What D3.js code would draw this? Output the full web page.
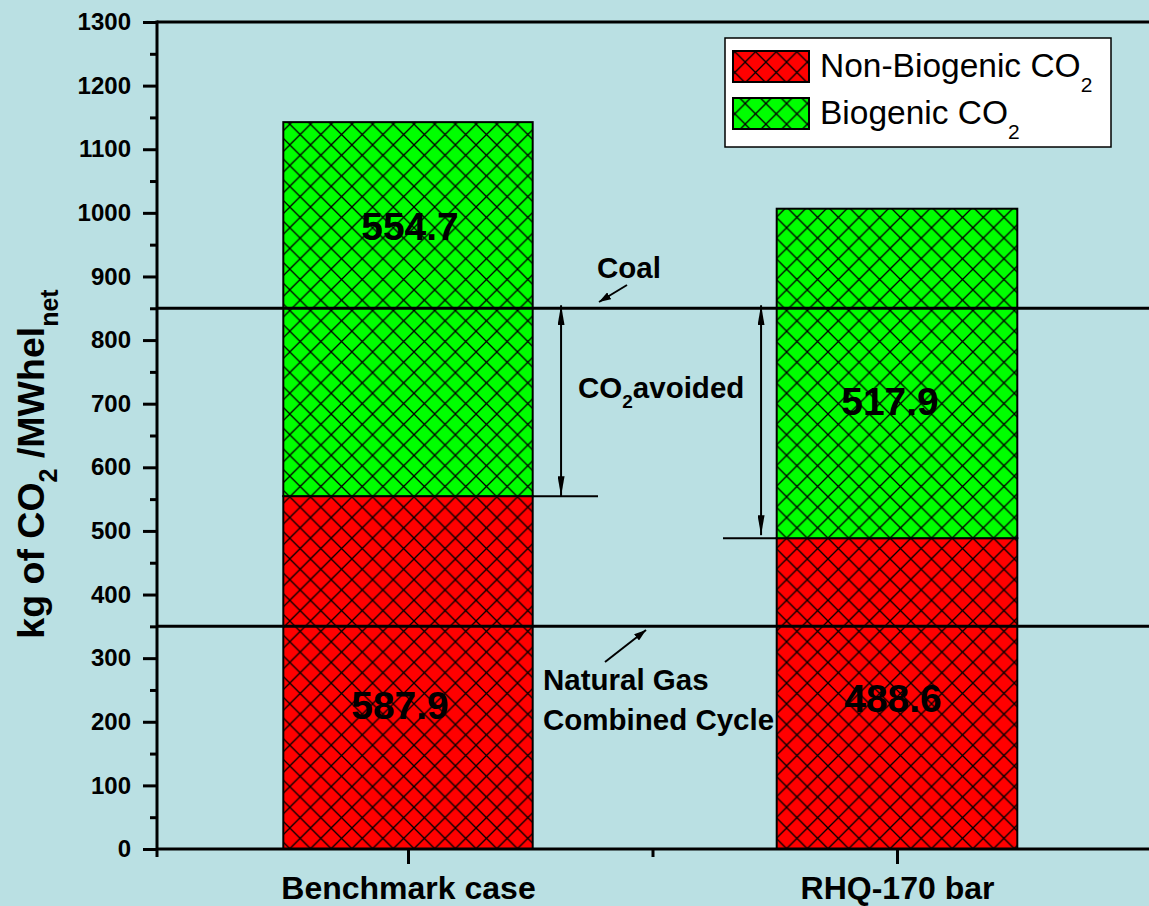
<!DOCTYPE html>
<html>
<head>
<meta charset="utf-8">
<script src="https://cdn.jsdelivr.net/npm/d3@7"></script>
<style>
  body { margin: 0; background: #bae0e3; }
  svg { display: block; font-family: "Liberation Sans", Arial, sans-serif; }
</style>
</head>
<body>
<svg id="chart" width="1149" height="906"></svg>
<script>
// Data
const categories = ['Benchmark case', 'RHQ-170 bar'];
const nonBiogenic = [554.7, 488.6];   // red part (bottom)
const biogenic = [587.9, 517.9];      // green part (top)
// the printed numbers, as they sit in the picture
const topLabels = ['554.7', '517.9'];
const bottomLabels = ['587.9', '488.6'];
const yTicks = [0, 100, 200, 300, 400, 500, 600, 700, 800, 900, 1000, 1100, 1200, 1300];
const coalLevel = 850;
const ngccLevel = 350;

const W = 1149, H = 906;
// plot edges (note: "top" is taken by window.top)
const plotL = 157, plotR = 1149, plotT = 22, plotB = 849;

const svg = d3.select('#chart');

const x = d3.scaleLinear().domain([1, 2]).range([408, 897]);
const y = d3.scaleLinear().domain([0, 1300]).range([plotB, plotT]);
const halfW = [0.255, 0.246];

// hatch patterns
const defs = svg.append('defs');
const hs = 20.7;
function hatch(id, color) {
  const p = defs.append('pattern')
    .attr('id', id)
    .attr('patternUnits', 'userSpaceOnUse')
    .attr('width', hs).attr('height', hs);
  p.append('rect').attr('width', hs).attr('height', hs).attr('fill', color);
  p.append('path')
    .attr('d', `M-2,2 l4,-4 M0,${hs} l${hs},${-hs} M${hs - 2},${hs + 2} l4,-4 ` +
               `M-2,${hs - 2} l4,4 M0,0 l${hs},${hs} M${hs - 2},-2 l4,4`)
    .attr('stroke', '#000').attr('stroke-width', 1.3);
}
hatch('hatchRed', '#ff0000');
hatch('hatchGreen', '#00ff00');

function marker(id, len, wid) {
  defs.append('marker')
    .attr('id', id)
    .attr('viewBox', '0 0 10 10')
    .attr('refX', 10).attr('refY', 5)
    .attr('markerWidth', len).attr('markerHeight', wid)
    .attr('markerUnits', 'userSpaceOnUse')
    .attr('orient', 'auto-start-reverse')
    .attr('preserveAspectRatio', 'none')
    .append('path').attr('d', 'M0,0 L10,5 L0,10 Z').attr('fill', '#000');
}
marker('arr', 12, 8);
marker('arrLong', 20, 7);

svg.append('rect').attr('width', W).attr('height', H).attr('fill', '#bae0e3');

// bars
const stack = categories.map((c, i) => ({
  i: i,
  red: [0, nonBiogenic[i]],
  green: [nonBiogenic[i], nonBiogenic[i] + biogenic[i]]
}));

const bars = svg.append('g');
bars.selectAll('rect.red').data(stack).enter().append('rect')
  .attr('class', 'red')
  .attr('x', d => x(d.i + 1 - halfW[d.i]))
  .attr('width', d => x(d.i + 1 + halfW[d.i]) - x(d.i + 1 - halfW[d.i]))
  .attr('y', d => y(d.red[1]))
  .attr('height', d => y(d.red[0]) - y(d.red[1]))
  .attr('fill', 'url(#hatchRed)')
  .attr('stroke', '#000').attr('stroke-width', 2);

bars.selectAll('rect.green').data(stack).enter().append('rect')
  .attr('class', 'green')
  .attr('x', d => x(d.i + 1 - halfW[d.i]))
  .attr('width', d => x(d.i + 1 + halfW[d.i]) - x(d.i + 1 - halfW[d.i]))
  .attr('y', d => y(d.green[1]))
  .attr('height', d => y(d.green[0]) - y(d.green[1]))
  .attr('fill', 'url(#hatchGreen)')
  .attr('stroke', '#000').attr('stroke-width', 2);

// reference lines (coal, NGCC)
svg.selectAll('line.ref').data([coalLevel, ngccLevel]).enter().append('line')
  .attr('class', 'ref')
  .attr('x1', plotL).attr('x2', plotR)
  .attr('y1', d => y(d)).attr('y2', d => y(d))
  .attr('stroke', '#000').attr('stroke-width', 3);

// values inside bars
const topY = [957, 682], botY = [205, 216];
const nudge = [[2, -8], [-7, -4]];
const valG = svg.append('g')
  .attr('font-size', 39).attr('font-weight', 'bold').attr('text-anchor', 'middle');
categories.forEach((c, i) => {
  valG.append('text').attr('x', x(i + 1) + nudge[i][0]).attr('y', y(topY[i])).text(topLabels[i]);
  valG.append('text').attr('x', x(i + 1) + nudge[i][1]).attr('y', y(botY[i])).text(bottomLabels[i]);
});

// axes
const yAxis = d3.axisLeft(y).tickValues(yTicks).tickSize(14).tickPadding(12).tickFormat(d3.format('d'));
const gy = svg.append('g').attr('transform', `translate(${plotL},0)`).call(yAxis);
gy.select('.domain').remove();
gy.selectAll('line').attr('stroke-width', 3);
gy.selectAll('text').attr('font-size', 24).attr('font-weight', 'bold').attr('font-family', null).attr('fill', '#000');

const yMinor = d3.axisLeft(y).tickValues(d3.range(50, 1300, 100)).tickSize(7).tickFormat('');
const gym = svg.append('g').attr('transform', `translate(${plotL},0)`).call(yMinor);
gym.select('.domain').remove();
gym.selectAll('line').attr('stroke-width', 3);

const xAxis = d3.axisBottom(x).tickValues([1, 2]).tickSize(15).tickPadding(12)
  .tickFormat((d, i) => categories[i]);
const gx = svg.append('g').attr('transform', `translate(0,${plotB})`).call(xAxis);
gx.select('.domain').remove();
gx.selectAll('line').attr('stroke-width', 3);
gx.selectAll('text').attr('font-size', 32).attr('font-weight', 'bold').attr('font-family', null).attr('fill', '#000');

const xMinor = d3.axisBottom(x).tickValues([1.5]).tickSize(8).tickFormat('');
const gxm = svg.append('g').attr('transform', `translate(0,${plotB})`).call(xMinor);
gxm.select('.domain').remove();
gxm.selectAll('line').attr('stroke-width', 3);

// frame lines
svg.append('line').attr('x1', plotL).attr('x2', plotL).attr('y1', plotT - 1.5).attr('y2', plotB + 8)
  .attr('stroke', '#000').attr('stroke-width', 3);
svg.append('line').attr('x1', plotL).attr('x2', plotR).attr('y1', plotB).attr('y2', plotB)
  .attr('stroke', '#000').attr('stroke-width', 3);
svg.append('line').attr('x1', plotL).attr('x2', plotR).attr('y1', plotT).attr('y2', plotT)
  .attr('stroke', '#000').attr('stroke-width', 3);

// y label
const yl = svg.append('text')
  .attr('transform', 'translate(44,464) rotate(-90)')
  .attr('text-anchor', 'middle')
  .attr('font-size', 37.5).attr('font-weight', 'bold');
yl.append('tspan').text('kg of CO');
yl.append('tspan').attr('font-size', 25).attr('dy', 13).text('2');
yl.append('tspan').attr('dy', -13).text(' /MWhel');
yl.append('tspan').attr('font-size', 25).attr('dy', 14).text('net');

// annotations
const ann = svg.append('g').attr('font-size', 29.5).attr('font-weight', 'bold');
ann.append('text').attr('x', 597).attr('y', 278).text('Coal');
const co2 = ann.append('text').attr('x', 578).attr('y', 398);
co2.append('tspan').text('CO');
co2.append('tspan').attr('font-size', 19).attr('dy', 10).text('2');
co2.append('tspan').attr('dy', -10).text('avoided');
ann.append('text').attr('x', 543).attr('y', 690).text('Natural Gas');
ann.append('text').attr('x', 543).attr('y', 730).text('Combined Cycle');

function arrow(x1, y1, x2, y2, both, m) {
  const l = svg.append('line')
    .attr('x1', x1).attr('y1', y1).attr('x2', x2).attr('y2', y2)
    .attr('stroke', '#000').attr('stroke-width', 2)
    .attr('marker-end', `url(#${m})`);
  if (both) l.attr('marker-start', `url(#${m})`);
}
arrow(627, 285, 599, 302, false, 'arr');
arrow(605, 662, 646, 630, false, 'arr');

// CO2 avoided double arrows
const avoidX = [1.313, 1.722];
avoidX.forEach((ax, i) => {
  arrow(x(ax), y(coalLevel) - 3, x(ax), y(nonBiogenic[i]) + (i ? -3 : 0), true, 'arrLong');
});
svg.append('line')
  .attr('x1', x(1 + halfW[0])).attr('x2', 598)
  .attr('y1', y(nonBiogenic[0])).attr('y2', y(nonBiogenic[0]))
  .attr('stroke', '#000').attr('stroke-width', 2);
svg.append('line')
  .attr('x1', 723).attr('x2', x(2 - halfW[1]))
  .attr('y1', y(nonBiogenic[1])).attr('y2', y(nonBiogenic[1]))
  .attr('stroke', '#000').attr('stroke-width', 2);

// legend
const lg = svg.append('g');
lg.append('rect').attr('x', 725).attr('y', 38).attr('width', 386).attr('height', 109)
  .attr('fill', '#fff').attr('stroke', '#000').attr('stroke-width', 1.5);
const legendItems = [
  { fill: 'url(#hatchRed)', label: 'Non-Biogenic CO' },
  { fill: 'url(#hatchGreen)', label: 'Biogenic CO' }
];
legendItems.forEach((d, i) => {
  const yy = 51 + i * 47;
  lg.append('rect').attr('x', 733).attr('y', yy).attr('width', 76).attr('height', 31)
    .attr('fill', d.fill).attr('stroke', '#000').attr('stroke-width', 2);
  const t = lg.append('text').attr('x', 820).attr('y', yy + 26).attr('font-size', 33.5);
  t.append('tspan').text(d.label);
  t.append('tspan').attr('font-size', 21).attr('dy', 15).text('2');
});
</script>
</body>
</html>
